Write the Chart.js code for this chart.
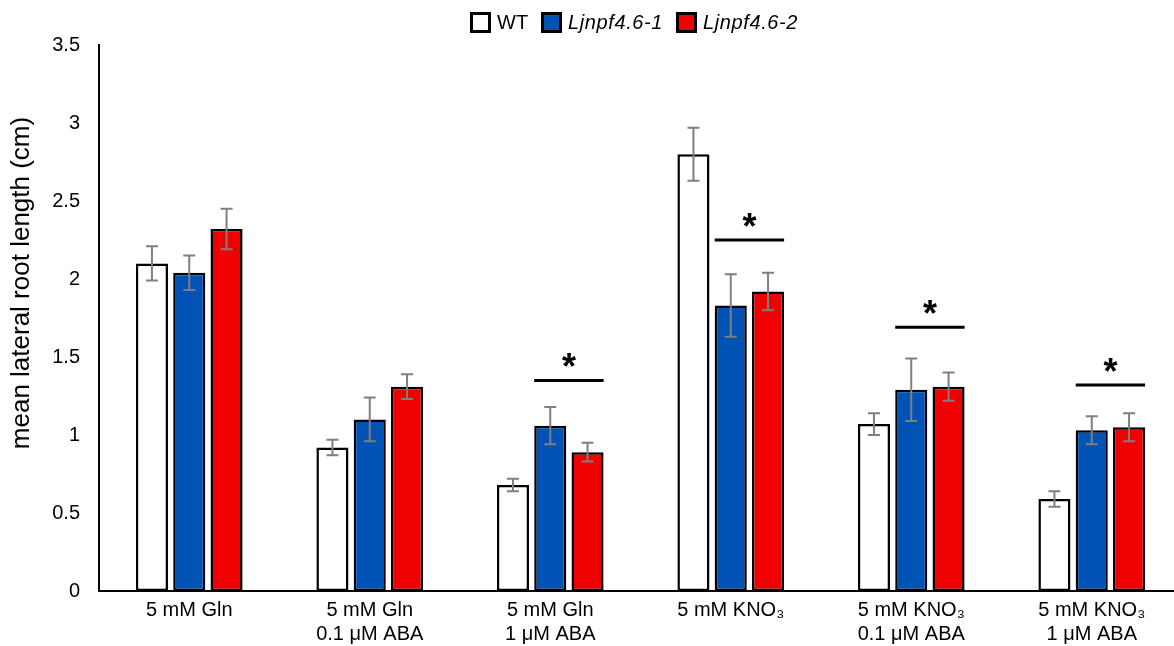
<!DOCTYPE html>
<html>
<head>
<meta charset="utf-8">
<script src="https://cdn.jsdelivr.net/npm/chart.js@4.4.1/dist/chart.umd.min.js"></script>
<style>
    html, body { margin: 0; padding: 0; background: #fff; overflow: hidden; }
    #wrap { position: relative; width: 1186px; height: 646px; }
    #legend {
        position: absolute; top: 11px; left: 470px;
        display: flex; align-items: center;
        font-family: "Liberation Sans", Arial, sans-serif; font-size: 20px; color: #000;
    }
    #legend .item { display: flex; align-items: center; margin-right: 13px; }
    #legend .box { width: 15px; height: 15px; border: 3px solid #000; margin-right: 6px; }
    #legend .it { font-style: italic; letter-spacing: 0.6px; }
</style>
</head>
<body>
<div id="wrap">
    <canvas id="chart" width="1186" height="646"></canvas>
    <div id="legend"></div>
</div>
<script>
//---------------------------------------------------------------------
// DONNÉES
//---------------------------------------------------------------------
const categories = [
    ["5 mM Gln"],
    ["5 mM Gln", "0.1 μM ABA"],
    ["5 mM Gln", "1 μM ABA"],
    ["5 mM KNO₃"],
    ["5 mM KNO₃", "0.1 μM ABA"],
    ["5 mM KNO₃", "1 μM ABA"]
];
const seriesNames = ["WT", "Ljnpf4.6-1", "Ljnpf4.6-2"];
const wt     = [2.10, 0.92, 0.68, 2.80, 1.07, 0.59];
const mut1   = [2.04, 1.10, 1.06, 1.83, 1.29, 1.03];
const mut2   = [2.32, 1.31, 0.89, 1.92, 1.31, 1.05];
const wtErr   = [0.11, 0.05, 0.04, 0.17, 0.07, 0.05];
const mut1Err = [0.11, 0.14, 0.12, 0.20, 0.20, 0.09];
const mut2Err = [0.13, 0.08, 0.06, 0.12, 0.09, 0.09];
// hauteur des barres de significativité (null = pas de marque)
const sigLevels = [null, null, 1.35, 2.25, 1.69, 1.32];
const yTicks = [0, 0.5, 1, 1.5, 2, 2.5, 3, 3.5];
const yTitle = "mean lateral root length (cm)";

const colors = ["#ffffff", "#0052b4", "#f00000"];
const errors = [wtErr, mut1Err, mut2Err];
const FONT = '"Liberation Sans", Arial, sans-serif';

//---------------------------------------------------------------------
// LÉGENDE HTML (italique pour les mutants)
//---------------------------------------------------------------------
const legend = document.getElementById("legend");
seriesNames.forEach((name, i) => {
    const item = document.createElement("div");
    item.className = "item";
    const box = document.createElement("div");
    box.className = "box";
    box.style.background = colors[i];
    const txt = document.createElement("span");
    txt.textContent = name;
    if (i > 0) txt.className = "it";
    item.appendChild(box);
    item.appendChild(txt);
    legend.appendChild(item);
});

//---------------------------------------------------------------------
// PLUGINS : barres d'erreur, astérisques, titre Y
//---------------------------------------------------------------------
const errorBars = {
    id: "errorBars",
    afterDatasetsDraw(chart) {
        const ctx = chart.ctx;
        const y = chart.scales.y;
        ctx.save();
        ctx.strokeStyle = "#7f7f7f";
        ctx.lineWidth = 2;
        chart.data.datasets.forEach((ds, i) => {
            chart.getDatasetMeta(i).data.forEach((bar, j) => {
                const v = ds.data[j], e = errors[i][j];
                const top = y.getPixelForValue(v + e);
                const bot = y.getPixelForValue(v - e);
                ctx.beginPath();
                ctx.moveTo(bar.x, top); ctx.lineTo(bar.x, bot);
                ctx.moveTo(bar.x - 6, top); ctx.lineTo(bar.x + 6, top);
                ctx.moveTo(bar.x - 6, bot); ctx.lineTo(bar.x + 6, bot);
                ctx.stroke();
            });
        });
        ctx.restore();
    }
};

const signif = {
    id: "signif",
    afterDatasetsDraw(chart) {
        const ctx = chart.ctx;
        const y = chart.scales.y;
        const m1 = chart.getDatasetMeta(1).data;
        const m2 = chart.getDatasetMeta(2).data;
        ctx.save();
        sigLevels.forEach((lvl, j) => {
            if (lvl === null) return;
            const x1 = m1[j].x - m1[j].width / 2;
            const x2 = m2[j].x + m2[j].width / 2;
            const ly = y.getPixelForValue(lvl);
            ctx.strokeStyle = "#000";
            ctx.lineWidth = 3;
            ctx.beginPath();
            ctx.moveTo(x1, ly); ctx.lineTo(x2, ly);
            ctx.stroke();
            ctx.fillStyle = "#000";
            ctx.font = "bold 36px " + FONT;
            ctx.textAlign = "center";
            ctx.textBaseline = "alphabetic";
            ctx.fillText("*", (x1 + x2) / 2, ly - 1);
        });
        ctx.restore();
    }
};

// titre de l'axe Y (décalé vers le haut comme dans l'original)
const yTitlePlugin = {
    id: "yTitlePlugin",
    afterDraw(chart) {
        const ctx = chart.ctx;
        ctx.save();
        ctx.translate(22, 283);
        ctx.rotate(-Math.PI / 2);
        ctx.fillStyle = "#000";
        ctx.font = "26px " + FONT;
        ctx.textAlign = "center";
        ctx.textBaseline = "middle";
        ctx.fillText(yTitle, 0, 0);
        ctx.restore();
    }
};

//---------------------------------------------------------------------
// GRAPHIQUE
//---------------------------------------------------------------------
const datasets = [wt, mut1, mut2].map((d, i) => ({
    label: seriesNames[i],
    data: d,
    backgroundColor: colors[i],
    borderColor: "#000",
    borderWidth: 2.5,
    borderSkipped: false,
    categoryPercentage: 0.62,
    barPercentage: 0.86
}));

new Chart(document.getElementById("chart"), {
    type: "bar",
    data: { labels: categories, datasets: datasets },
    plugins: [errorBars, signif, yTitlePlugin],
    options: {
        responsive: false,
        animation: false,
        layout: { padding: { top: 45, right: 4, left: 0, bottom: 0 } },
        plugins: {
            legend: { display: false },
            tooltip: { enabled: false }
        },
        scales: {
            x: {
                grid: { display: false, drawTicks: false },
                border: { display: true, color: "#000", width: 2 },
                ticks: {
                    color: "#000",
                    font: { family: FONT, size: 20, lineHeight: 1.17 },
                    padding: 8,
                    maxRotation: 0,
                    autoSkip: false
                },
                afterFit(scale) { scale.height = 55; }
            },
            y: {
                min: 0,
                max: 3.5,
                afterBuildTicks(scale) { scale.ticks = yTicks.map(v => ({ value: v })); },
                grid: { display: false, drawTicks: false },
                border: { display: true, color: "#000", width: 2 },
                ticks: {
                    color: "#000",
                    font: { family: FONT, size: 20 },
                    padding: 19,
                    callback: v => String(v)
                },
                afterFit(scale) { scale.width = 99; }
            }
        }
    }
});
</script>
</body>
</html>
